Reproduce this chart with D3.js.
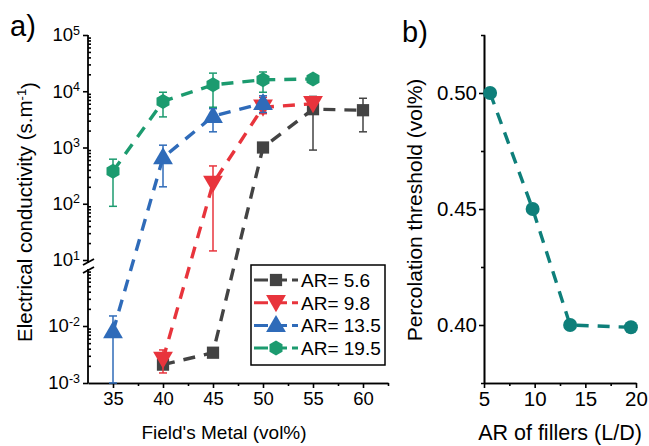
<!DOCTYPE html>
<html>
<head>
<meta charset="utf-8">
<script src="https://cdn.jsdelivr.net/npm/d3@7"></script>
<style>
  body { margin: 0; background: #fff; }
  svg { font-family: "Liberation Sans", Arial, sans-serif; }
  .axis path, .axis line { stroke: #000; stroke-width: 1.6; }
  .axis text { font-size: 18.5px; fill: #000; }
  .axisb text { font-size: 20.5px; }
</style>
</head>
<body>
<svg id="chart" width="649" height="446"></svg>
<script>
// ---- data ----
var fieldMetal = [35, 40, 45, 50, 55, 60];

var ar56    = [null, 2.1e-3, 3.4e-3, 1.0e3, 4.8e3, 4.6e3];
var ar56Lo  = [null, 1.9e-3, 3.2e-3, 0.88e3, 0.9e3, 1.9e3];
var ar56Hi  = [null, 2.4e-3, 3.6e-3, 1.15e3, 8.1e3, 7.5e3];

var ar98    = [null, 2.6e-3, 230, 5.2e3, 6.0e3, null];
var ar98Lo  = [null, 1.5e-3, 14.5, 4.0e3, 5.6e3, null];
var ar98Hi  = [null, 3.8e-3, 470, 7.8e3, 6.5e3, null];

var ar135   = [8e-3, 660, 3.6e3, 6.1e3, null, null];
var ar135Lo = [1e-3, 200, 1.9e3, 4.2e3, null, null];
var ar135Hi = [1.5e-2, 1.1e3, 4.9e3, 8.3e3, null, null];

var ar195   = [380, 6.6e3, 1.3e4, 1.6e4, 1.65e4, null];
var ar195Lo = [90, 3.5e3, 5.2e3, 9.6e3, 1.6e4, null];
var ar195Hi = [620, 9.6e3, 2.1e4, 2.2e4, 1.7e4, null];

var seriesNames = ["AR= 5.6", "AR= 9.8", "AR= 13.5", "AR= 19.5"];
var seriesColors = ["#434343", "#e8343c", "#2f6bb9", "#1c9b6f"];

var arFillers = [5.6, 9.8, 13.5, 19.5];
var threshold = [0.50, 0.45, 0.40, 0.399];

var svg = d3.select("#chart");

// ---------------- panel a ----------------
var x = d3.scaleLinear().domain([32.5, 62.5]).range([88, 388]);
var yTop = d3.scaleLog().domain([10, 1e5]).range([260, 35]);
var yBot = d3.scaleLog().domain([1e-3, 1e-1]).range([383, 269]);
function y(v) { return v >= 10 ? yTop(v) : yBot(v); }

var ga = svg.append("g");

// x axis
ga.append("g").attr("class", "axis")
  .attr("transform", "translate(0,383)")
  .call(d3.axisBottom(x).tickValues([37.5, 42.5, 47.5, 52.5, 57.5, 62.5]).tickSize(3).tickSizeOuter(0).tickFormat(""));
ga.append("g").attr("class", "axis")
  .attr("transform", "translate(0,383)")
  .call(d3.axisBottom(x).tickValues(fieldMetal).tickSize(5).tickSizeOuter(0).tickPadding(4));

// y axis - minor ticks (inside)
var minorTop = [], minorBot = [];
[10, 100, 1e3, 1e4].forEach(function(d) { for (var k = 2; k < 10; k++) minorTop.push(d * k); });
[1e-3, 1e-2].forEach(function(d) { for (var k = 2; k < 10; k++) minorBot.push(d * k); });

ga.append("g").attr("class", "axis")
  .attr("transform", "translate(88,0)")
  .call(d3.axisRight(yTop).tickValues(minorTop).tickSize(3).tickSizeOuter(0).tickFormat(""))
  .select(".domain").remove();
ga.append("g").attr("class", "axis")
  .attr("transform", "translate(88,0)")
  .call(d3.axisRight(yBot).tickValues(minorBot).tickSize(3).tickSizeOuter(0).tickFormat(""))
  .select(".domain").remove();

function supLabels(sel) {
  sel.selectAll(".tick text").each(function(d) {
    var t = d3.select(this).text(null);
    var e = Math.round(Math.log10(d));
    t.append("tspan").text("10");
    t.append("tspan").attr("dy", "-0.55em").style("font-size", "12.5px").text(e);
  });
}

ga.append("g").attr("class", "axis")
  .attr("transform", "translate(88,0)")
  .call(d3.axisLeft(yTop).tickValues([10, 100, 1e3, 1e4, 1e5]).tickSize(5).tickSizeOuter(0).tickPadding(3))
  .call(supLabels)
  .select(".domain").remove();
ga.append("g").attr("class", "axis")
  .attr("transform", "translate(88,0)")
  .call(d3.axisLeft(yBot).tickValues([1e-3, 1e-2]).tickSize(5).tickSizeOuter(0).tickPadding(3))
  .call(supLabels)
  .select(".domain").remove();

// broken axis line
ga.append("line").attr("x1", 88).attr("x2", 88).attr("y1", 35).attr("y2", 263)
  .attr("stroke", "#000").attr("stroke-width", 1.8);
ga.append("line").attr("x1", 88).attr("x2", 88).attr("y1", 269).attr("y2", 383)
  .attr("stroke", "#000").attr("stroke-width", 1.8);
ga.append("line").attr("x1", 83).attr("x2", 94).attr("y1", 265).attr("y2", 259)
  .attr("stroke", "#000").attr("stroke-width", 1.8);
ga.append("line").attr("x1", 83).attr("x2", 94).attr("y1", 273).attr("y2", 267)
  .attr("stroke", "#000").attr("stroke-width", 1.8);

// series
var series = [
  {vals: ar56, lo: ar56Lo, hi: ar56Hi, shape: "square"},
  {vals: ar98, lo: ar98Lo, hi: ar98Hi, shape: "down"},
  {vals: ar135, lo: ar135Lo, hi: ar135Hi, shape: "up"},
  {vals: ar195, lo: ar195Lo, hi: ar195Hi, shape: "hex"}
];

function markerPath(shape) {
  if (shape == "square") return d3.symbol().type(d3.symbolSquare).size(150)();
  if (shape == "up") return d3.symbol().type(d3.symbolTriangle).size(170)();
  if (shape == "down") return d3.symbol().type(d3.symbolTriangle).size(170)();
  // hexagon
  var r = 7.5, pts = [];
  for (var i = 0; i < 6; i++) {
    var a = Math.PI / 6 + i * Math.PI / 3;
    pts.push([r * Math.cos(a), r * Math.sin(a)]);
  }
  return d3.line()(pts) + "Z";
}
function markerTransform(shape, px, py) {
  if (shape == "down") return "translate(" + px + "," + (py - 2) + ") rotate(180)";
  if (shape == "up") return "translate(" + px + "," + (py + 1) + ")";
  return "translate(" + px + "," + py + ")";
}

var line = d3.line()
  .defined(function(d) { return d.v != null; })
  .x(function(d) { return x(d.x); })
  .y(function(d) { return y(d.v); });

series.forEach(function(s, i) {
  var pts = fieldMetal.map(function(f, j) { return {x: f, v: s.vals[j], lo: s.lo[j], hi: s.hi[j]}; })
    .filter(function(d) { return d.v != null; });
  var col = seriesColors[i];
  var sg = ga.append("g");

  sg.append("path").datum(pts)
    .attr("d", line)
    .attr("fill", "none")
    .attr("stroke", col)
    .attr("stroke-width", 3.4)
    .attr("stroke-dasharray", "12,9");

  var eb = sg.selectAll(".eb").data(pts).enter().append("g");
  eb.append("line")
    .attr("x1", function(d) { return x(d.x); })
    .attr("x2", function(d) { return x(d.x); })
    .attr("y1", function(d) { return y(d.lo); })
    .attr("y2", function(d) { return y(d.hi); })
    .attr("stroke", col).attr("stroke-width", 1.5);
  eb.append("line")
    .attr("x1", function(d) { return x(d.x) - 4; })
    .attr("x2", function(d) { return x(d.x) + 4; })
    .attr("y1", function(d) { return y(d.hi); })
    .attr("y2", function(d) { return y(d.hi); })
    .attr("stroke", col).attr("stroke-width", 1.5);
  eb.append("line")
    .attr("x1", function(d) { return x(d.x) - 4; })
    .attr("x2", function(d) { return x(d.x) + 4; })
    .attr("y1", function(d) { return y(d.lo); })
    .attr("y2", function(d) { return y(d.lo); })
    .attr("stroke", col).attr("stroke-width", 1.5);

  sg.selectAll(".mk").data(pts).enter().append("path")
    .attr("d", markerPath(s.shape))
    .attr("transform", function(d) { return markerTransform(s.shape, x(d.x), y(d.v)); })
    .attr("fill", col);
});

// legend
var lg = ga.append("g");
lg.append("rect").attr("x", 251).attr("y", 265).attr("width", 134).attr("height", 100)
  .attr("fill", "#fff").attr("stroke", "#000").attr("stroke-width", 1.5);
seriesNames.forEach(function(n, i) {
  var ly = 280 + i * 22.7;
  lg.append("line").attr("x1", 254).attr("x2", 298).attr("y1", ly).attr("y2", ly)
    .attr("stroke", seriesColors[i]).attr("stroke-width", 3).attr("stroke-dasharray", "14,5");
  lg.append("path").attr("d", markerPath(series[i].shape))
    .attr("transform", markerTransform(series[i].shape, 276, ly))
    .attr("fill", seriesColors[i]);
  lg.append("text").attr("x", 301).attr("y", ly + 7)
    .style("font-size", "19px").text(n);
});

// titles
ga.append("text").attr("x", 10).attr("y", 36).style("font-size", "29px").text("a)");
ga.append("text")
  .attr("transform", "translate(32,212) rotate(-90)")
  .attr("text-anchor", "middle")
  .style("font-size", "20.5px")
  .call(function(t) {
    t.append("tspan").text("Electrical conductivity (s.m");
    t.append("tspan").attr("dy", "-0.5em").style("font-size", "13px").text("-1");
    t.append("tspan").attr("dy", "0.5em").text(")");
  });
ga.append("text").attr("x", 224).attr("y", 439).attr("text-anchor", "middle")
  .style("font-size", "19px").text("Field's Metal (vol%)");

// ---------------- panel b ----------------
var xb = d3.scaleLinear().domain([5, 20]).range([484, 636]);
var yb = d3.scaleLinear().domain([0.375, 0.525]).range([383, 35]);
var gb = svg.append("g");

gb.append("g").attr("class", "axis axisb")
  .attr("transform", "translate(0,383)")
  .call(d3.axisBottom(xb).tickValues([7.5, 12.5, 17.5]).tickSize(3).tickSizeOuter(0).tickFormat(""));
gb.append("g").attr("class", "axis axisb")
  .attr("transform", "translate(0,383)")
  .call(d3.axisBottom(xb).tickValues([5, 10, 15, 20]).tickSize(5).tickSizeOuter(0).tickPadding(3));

gb.append("g").attr("class", "axis axisb")
  .attr("transform", "translate(484,0)")
  .call(d3.axisLeft(yb).tickValues([0.425, 0.475]).tickSize(3).tickSizeOuter(0).tickFormat(""));
gb.append("g").attr("class", "axis axisb")
  .attr("transform", "translate(484,0)")
  .call(d3.axisLeft(yb).tickValues([0.40, 0.45, 0.50]).tickSize(5).tickSizeOuter(3).tickPadding(2).tickFormat(d3.format(".2f")));

var bpts = arFillers.map(function(a, i) { return [a, threshold[i]]; });
gb.append("path").datum(bpts)
  .attr("d", d3.line().x(function(d) { return xb(d[0]); }).y(function(d) { return yb(d[1]); }))
  .attr("fill", "none")
  .attr("stroke", "#0e7f7a")
  .attr("stroke-width", 3.4)
  .attr("stroke-dasharray", "12,9");
gb.selectAll(".pt").data(bpts).enter().append("circle")
  .attr("cx", function(d) { return xb(d[0]); })
  .attr("cy", function(d) { return yb(d[1]); })
  .attr("r", 7)
  .attr("fill", "#0e7f7a");

gb.append("text").attr("x", 402).attr("y", 42).style("font-size", "29px").text("b)");
gb.append("text")
  .attr("transform", "translate(422,210) rotate(-90)")
  .attr("text-anchor", "middle")
  .style("font-size", "21px").text("Percolation threshold (vol%)");
gb.append("text").attr("x", 560).attr("y", 440).attr("text-anchor", "middle")
  .style("font-size", "21.5px").text("AR of fillers (L/D)");
</script>
</body>
</html>
